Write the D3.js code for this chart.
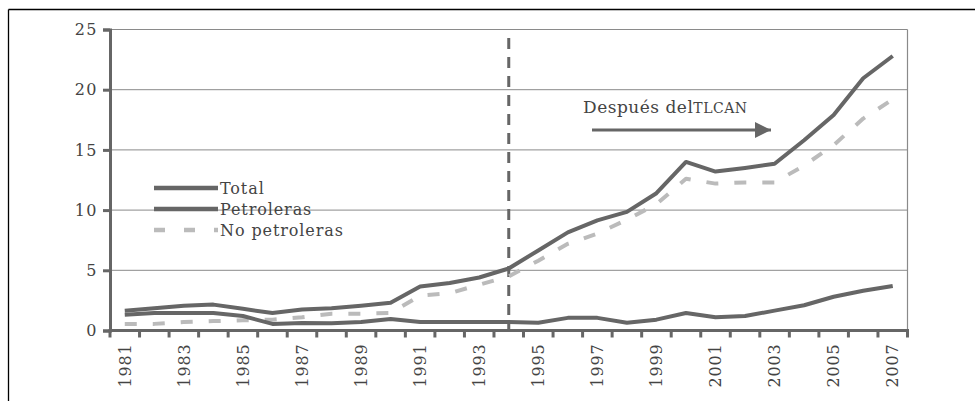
<!DOCTYPE html>
<html>
<head>
<meta charset="utf-8">
<script src="https://cdn.jsdelivr.net/npm/d3@7"></script>
<style>
  body { margin: 0; background: #fff; }
  svg { display: block; }
  text { font-family: "DejaVu Serif", "Liberation Serif", serif; fill: #444; }
</style>
</head>
<body>
<svg id="chart" width="975" height="401"></svg>
<script>
// Data (miles de millones de dólares)
const years = d3.range(1981, 2008).map(String);
const total = [1.65, 1.85, 2.05, 2.15, 1.8, 1.45, 1.75, 1.85, 2.05, 2.3, 3.65, 3.95, 4.4, 5.15, 6.65, 8.15, 9.15, 9.85, 11.4, 14.0, 13.2, 13.5, 13.85, 15.8, 17.9, 20.95, 22.8];
const petroleras = [1.3, 1.45, 1.45, 1.45, 1.2, 0.55, 0.62, 0.6, 0.7, 0.95, 0.7, 0.7, 0.7, 0.7, 0.65, 1.05, 1.05, 0.65, 0.9, 1.45, 1.1, 1.2, 1.65, 2.1, 2.8, 3.3, 3.7];
const noPetroleras = [0.55, 0.55, 0.7, 0.78, 0.85, 0.9, 1.1, 1.4, 1.4, 1.45, 2.9, 3.1, 3.8, 4.5, 5.8, 7.2, 8.05, 9.2, 10.5, 12.6, 12.2, 12.3, 12.3, 13.7, 15.4, 17.6, 19.2];
const yTicks = [0, 5, 10, 15, 20, 25];
const series = [
  { name: "Total", values: total, color: "#666", dash: null },
  { name: "Petroleras", values: petroleras, color: "#666", dash: null },
  { name: "No petroleras", values: noPetroleras, color: "#bbb", dash: "12,16" }
];
const markerYear = "1994";
const note = ["Después del", "TLCAN"];

const svg = d3.select("#chart");
const margin = { left: 110, right: 975 - 907.5, top: 29.5, bottom: 401 - 330.5 };
const W = 975, H = 401;

// Outer frame (top + left only)
svg.append("line").attr("x1", 8.5).attr("x2", W).attr("y1", 9.5).attr("y2", 9.5)
  .attr("stroke", "#000").attr("stroke-width", 1.3);
svg.append("line").attr("x1", 8.5).attr("x2", 8.5).attr("y1", 9.5).attr("y2", H)
  .attr("stroke", "#000").attr("stroke-width", 1.3);

const x = d3.scaleBand().domain(years).range([margin.left, W - margin.right]);
const y = d3.scaleLinear().domain([0, 25]).range([H - margin.bottom, margin.top]);

// Gridlines
svg.append("g").selectAll("line").data(yTicks.filter(d => d > 0)).join("line")
  .attr("x1", margin.left).attr("x2", W - margin.right)
  .attr("y1", d => y(d)).attr("y2", d => y(d))
  .attr("stroke", "#8a8a8a").attr("stroke-width", 1);

// Right plot border
svg.append("line")
  .attr("x1", W - margin.right).attr("x2", W - margin.right)
  .attr("y1", y(25)).attr("y2", y(0))
  .attr("stroke", "#8a8a8a").attr("stroke-width", 1.2);

// Y axis
const yAxis = svg.append("g").attr("transform", `translate(${margin.left},0)`)
  .call(d3.axisLeft(y).tickValues(yTicks).tickSize(7).tickPadding(5));
yAxis.select(".domain").attr("stroke", "#666").attr("stroke-width", 3);
yAxis.selectAll(".tick line").attr("stroke", "#666").attr("stroke-width", 3);
yAxis.selectAll(".tick text").attr("fill", "#444").style("font-size", "16px")
  .style("font-family", "DejaVu Serif").style("letter-spacing", "1.5px");

// X axis: ticks on category boundaries, labels on odd years
const xAxisG = svg.append("g").attr("transform", `translate(0,${y(0)})`);
xAxisG.append("line").attr("x1", margin.left - 1.5).attr("x2", W - margin.right + 1.5)
  .attr("stroke", "#666").attr("stroke-width", 3);
const bounds = d3.range(years.length + 1).map(i => margin.left + i * x.step());
xAxisG.selectAll("line.tk").data(bounds).join("line").attr("class", "tk")
  .attr("x1", d => d).attr("x2", d => d).attr("y1", 0).attr("y2", 7)
  .attr("stroke", "#666").attr("stroke-width", 3);
xAxisG.selectAll("text").data(years.filter((d, i) => i % 2 === 0)).join("text")
  .attr("transform", d => `translate(${x(d) + x.bandwidth() / 2},13) rotate(-90)`)
  .attr("text-anchor", "end").attr("dy", "0.36em")
  .style("font-size", "16px").style("letter-spacing", "0.8px")
  .text(d => d);

// Vertical dashed marker
svg.append("line")
  .attr("x1", x(markerYear) + x.bandwidth() / 2).attr("x2", x(markerYear) + x.bandwidth() / 2)
  .attr("y1", 38).attr("y2", y(0))
  .attr("stroke", "#666").attr("stroke-width", 3).attr("stroke-dasharray", "11,8");

// Lines
const line = d3.line().x((d, i) => x(years[i]) + x.bandwidth() / 2).y(d => y(d));
svg.append("g").selectAll("path").data(series.slice().reverse()).join("path")
  .attr("d", d => line(d.values))
  .attr("fill", "none").attr("stroke", d => d.color).attr("stroke-width", 4)
  .attr("stroke-dasharray", d => d.dash)
  .attr("stroke-linejoin", "round");

// Legend
const legend = svg.append("g").attr("transform", "translate(154,188)");
const li = legend.selectAll("g").data(series).join("g")
  .attr("transform", (d, i) => `translate(0,${i * 21})`);
li.append("line").attr("x1", 0).attr("x2", 64).attr("y1", 0).attr("y2", 0)
  .attr("stroke", d => d.color).attr("stroke-width", 4.5)
  .attr("stroke-dasharray", d => d.dash ? "11,19" : null);
li.append("text").attr("x", 66).attr("y", 0).attr("dy", "0.35em")
  .style("font-size", "16px").style("letter-spacing", "0.9px").text(d => d.name);

// Annotation
const ann = svg.append("text").attr("x", 583).attr("y", 113).style("letter-spacing", "0.5px");
ann.append("tspan").style("font-size", "17px").text(note[0]);
ann.append("tspan").style("font-size", "14px").text(note[1]);

const defs = svg.append("defs");
defs.append("marker").attr("id", "arrowhead")
  .attr("viewBox", "0 -5 10 10").attr("refX", 10).attr("refY", 0)
  .attr("markerWidth", 16).attr("markerHeight", 16)
  .attr("markerUnits", "userSpaceOnUse").attr("orient", "auto")
  .append("path").attr("d", "M0,-5L10,0L0,5Z").attr("fill", "#666");
svg.append("line").attr("x1", 592).attr("x2", 771).attr("y1", 130).attr("y2", 130)
  .attr("stroke", "#666").attr("stroke-width", 3).attr("marker-end", "url(#arrowhead)");
</script>
</body>
</html>
